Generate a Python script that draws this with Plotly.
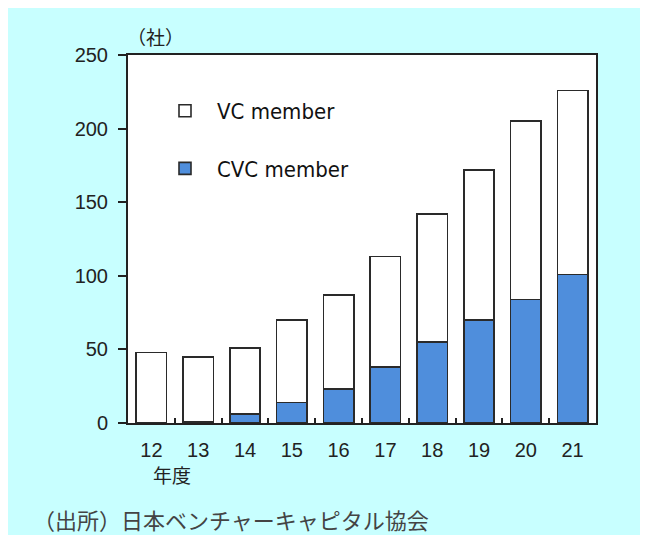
import plotly.graph_objects as go

years = ["12", "13", "14", "15", "16", "17", "18", "19", "20", "21"]
cvc_members = [0, 1, 6, 14, 23, 38, 55, 70, 84, 101]
vc_members = [48, 44, 45, 56, 64, 75, 87, 102, 121, 125]
y_ticks = [0, 50, 100, 150, 200, 250]

# page body has an 8px margin; figure is placed at (8, 8)
OFF = 8
W, H = 640, 527
L, T = 128 - OFF, 55 - OFF
R = W - (596 - OFF)
B = H - (423 - OFF)
pw, ph = W - L - R, H - T - B

def px(x):
    return (x - OFF - L) / pw

def py(y):
    return (H - B - (y - OFF)) / ph

fig = go.Figure()
fig.add_trace(go.Bar(
    x=years, y=cvc_members, name="CVC member",
    marker=dict(color="#4f8edc", line=dict(color="#2a2a2a", width=1.6)),
    legendgroup="cvc", legendrank=2,
))
fig.add_trace(go.Bar(
    x=years, y=vc_members, name="VC member",
    marker=dict(color="#ffffff", line=dict(color="#2a2a2a", width=1.6)),
    legendgroup="vc", legendrank=1,
))

tick_font = dict(family="Liberation Sans, Arial, sans-serif", size=20, color="#222")

fig.update_layout(
    width=W, height=H,
    margin=dict(l=L, r=R, t=T, b=B),
    barmode="stack",
    bargap=0.35,
    paper_bgcolor="#c8ffff",
    plot_bgcolor="#ffffff",
    showlegend=True,
    legend=dict(
        x=px(153), y=py(90), xanchor="left", yanchor="top",
        bgcolor="rgba(0,0,0,0)", borderwidth=0,
        traceorder="grouped", tracegroupgap=26,
        itemwidth=54,
        font=dict(family="DejaVu Sans Condensed, DejaVu Sans, sans-serif", size=22, color="#111"),
    ),
    xaxis=dict(
        type="category",
        showline=True, linecolor="#222", linewidth=2, mirror=True,
        ticks="inside", tickson="boundaries", ticklen=5, tickcolor="#222", tickwidth=2,
        tickfont=tick_font, ticklabelstandoff=8,
        showgrid=False,
    ),
    yaxis=dict(
        range=[0, 250], tickvals=y_ticks,
        showline=True, linecolor="#222", linewidth=2, mirror=True,
        ticks="outside", ticklen=8, tickcolor="#222", tickwidth=2,
        tickfont=tick_font, ticklabelstandoff=6,
        showgrid=False, zeroline=False,
    ),
    annotations=[
        dict(text="（社）", xref="paper", yref="paper", x=px(155), y=py(37),
             xanchor="center", yanchor="middle", showarrow=False,
             font=dict(family="Noto Sans CJK JP", size=19, color="#222")),
        dict(text="年度", xref="paper", yref="paper", x=px(151), y=py(474),
             xanchor="left", yanchor="middle", showarrow=False,
             font=dict(family="Noto Sans CJK JP", size=19, color="#222")),
        dict(text="（出所）日本ベンチャーキャピタル協会", xref="paper", yref="paper",
             x=px(31), y=py(519), xanchor="left", yanchor="middle", showarrow=False,
             font=dict(family="Noto Sans CJK JP", size=22, color="#444")),
    ],
)

fig.write_html("out.html")
